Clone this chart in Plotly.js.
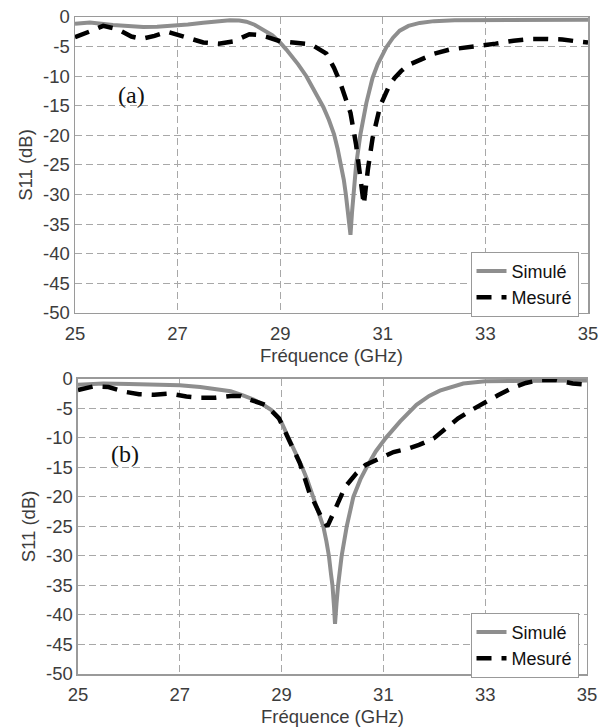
<!DOCTYPE html>
<html>
<head>
<meta charset="utf-8">
<script src="https://cdn.plot.ly/plotly-3.0.1.min.js"></script>
<style>html,body{margin:0;padding:0;background:#fff;}#chart{width:606px;height:727px;}</style>
</head>
<body>
<div id="chart"></div>
<script>
// ---- Data: panel (a) ----
const freqSimA = [25.0,25.29,25.74,26.05,26.33,26.6,26.85,27.2,27.5,27.8,28.02,28.2,28.34,28.5,28.67,28.85,29.0,29.12,29.35,29.51,29.7,29.84,29.95,30.05,30.12,30.19,30.24,30.28,30.32,30.37,30.4,30.43,30.48,30.56,30.68,30.8,30.9,31.07,31.2,31.33,31.5,31.72,32.0,32.4,33.0,34.0,35.0];
const s11SimA  = [-1.13,-0.95,-1.36,-1.6,-1.7,-1.65,-1.53,-1.25,-0.97,-0.7,-0.57,-0.6,-0.8,-1.3,-2.1,-3.1,-4.35,-5.5,-8,-10,-13,-15.2,-17.4,-19.8,-22.3,-25,-27.5,-30,-33,-36.8,-33,-30,-25,-20,-14.5,-10.3,-8,-5.1,-3.5,-2.3,-1.5,-1.0,-0.7,-0.55,-0.5,-0.45,-0.45];
const freqMesA = [25.0,25.15,25.3,25.55,25.75,25.9,26.1,26.3,26.55,26.8,27.05,27.3,27.5,27.8,28.1,28.4,28.55,28.75,29.0,29.3,29.6,29.9,30.05,30.17,30.3,30.37,30.48,30.56,30.63,30.71,30.8,30.95,31.13,31.23,31.36,31.5,31.73,32.0,32.3,32.6,32.9,33.2,33.55,33.9,34.2,34.5,34.77,35.0];
const s11MesA  = [-3.4,-3.0,-2.4,-1.5,-1.9,-2.4,-3.3,-3.7,-3.2,-2.5,-3.2,-3.9,-4.3,-4.5,-4.1,-2.9,-3.0,-3.4,-4.1,-4.35,-4.6,-6.2,-8.6,-11.1,-14.5,-16.2,-21.6,-26.8,-31.7,-25.7,-20.5,-15,-11.5,-10.3,-9.1,-8.1,-7.2,-6.2,-5.5,-5.2,-4.9,-4.5,-4.0,-3.7,-3.7,-3.8,-4.1,-4.3];

// ---- Data: panel (b) ----
const freqSimB = [25.0,25.5,26.0,26.5,27.0,27.4,27.72,28.0,28.24,28.45,28.64,28.8,28.9,29.0,29.1,29.25,29.39,29.5,29.62,29.72,29.82,29.88,29.93,29.97,30.0,30.03,30.05,30.08,30.11,30.18,30.28,30.41,30.55,30.67,30.85,31.05,31.33,31.65,31.9,32.11,32.35,32.57,33.0,34.0,35.0];
const s11SimB  = [-1.0,-0.8,-0.9,-1.0,-1.1,-1.4,-1.7,-2.1,-2.8,-3.5,-4.4,-5.3,-6.2,-7.4,-9.3,-12,-14.7,-17,-20,-22.5,-25,-27.5,-30,-33,-35,-38.5,-41.5,-38,-35,-30,-25,-20,-17,-15,-12.3,-10,-7.2,-4.4,-2.9,-2.0,-1.3,-0.8,-0.4,-0.3,-0.3];
const freqMesB = [25.0,25.15,25.3,25.6,25.92,26.2,26.5,26.8,27.13,27.4,27.7,28.0,28.2,28.34,28.5,28.67,28.8,28.95,29.11,29.36,29.54,29.7,29.79,29.9,30.0,30.25,30.47,30.65,30.85,31.0,31.2,31.45,31.7,31.99,32.2,32.47,32.75,33.0,33.25,33.52,33.8,34.08,34.4,34.72,35.0];
const s11MesB  = [-1.9,-1.5,-1.3,-1.4,-2.2,-2.6,-2.7,-2.5,-3.0,-3.2,-3.2,-2.9,-2.9,-3.4,-3.8,-4.4,-5.4,-6.7,-9.7,-14.3,-19.1,-22,-23.6,-25,-23.2,-18.3,-16.0,-14.6,-13.8,-13.2,-12.4,-11.9,-11.2,-10.1,-8.7,-6.7,-5.2,-4.1,-2.8,-1.6,-0.7,-0.2,-0.2,-0.8,-1.0];

const seriesNames = ['Simulé', 'Mesuré'];
const xTicks = [25, 27, 29, 31, 33, 35];
const yTicks = [0, -5, -10, -15, -20, -25, -30, -35, -40, -45, -50];
const panelLabels = ['(a)', '(b)'];
const xTitle = 'Fréquence (GHz)';
const yTitle = 'S11 (dB)';

const simColor = '#8e8e8e';
const mesColor = '#000000';
const txtFont = {family: 'Arial, "Liberation Sans", sans-serif', size: 18.5, color: '#3c3c3c'};

const simLine = {color: simColor, width: 4};
const mesLine = {color: mesColor, width: 4.5, dash: '15px,10px'};

const traces = [
  {x: freqSimA, y: s11SimA, name: seriesNames[0], mode: 'lines', line: simLine, xaxis: 'x', yaxis: 'y', legend: 'legend'},
  {x: freqMesA, y: s11MesA, name: seriesNames[1], mode: 'lines', line: mesLine, xaxis: 'x', yaxis: 'y', legend: 'legend'},
  {x: freqSimB, y: s11SimB, name: seriesNames[0], mode: 'lines', line: simLine, xaxis: 'x2', yaxis: 'y2', legend: 'legend2'},
  {x: freqMesB, y: s11MesB, name: seriesNames[1], mode: 'lines', line: mesLine, xaxis: 'x2', yaxis: 'y2', legend: 'legend2'}
];

function xAxis(domain, anchor) {
  return {
    domain: domain, anchor: anchor, range: [25, 35], tickvals: xTicks, ticktext: xTicks.map(String),
    showline: true, mirror: true, linecolor: '#9a9a9a', linewidth: 1.5,
    showgrid: true, gridcolor: '#a8a8a8', gridwidth: 1, griddash: '7px,4px',
    zeroline: false, ticks: '', tickfont: txtFont, ticklabelstandoff: 3,
    title: {text: xTitle, font: txtFont, standoff: 6}, automargin: false
  };
}
function yAxis(domain, anchor) {
  return {
    domain: domain, anchor: anchor, range: [-50, 0], tickvals: yTicks, ticktext: yTicks.map(String),
    showline: true, mirror: true, linecolor: '#9a9a9a', linewidth: 1.5,
    showgrid: true, gridcolor: '#a8a8a8', gridwidth: 1, griddash: '7px,4px',
    zeroline: false, ticks: '', tickfont: txtFont, ticklabelstandoff: 0,
    title: {text: yTitle, font: txtFont, standoff: 5}, automargin: false
  };
}

const legendStyle = (y) => ({
  x: 0.9815, xanchor: 'right', y: y, yanchor: 'top',
  bgcolor: '#ffffff', bordercolor: '#999999', borderwidth: 1,
  font: {family: 'Arial, "Liberation Sans", sans-serif', size: 18, color: '#111111'},
  itemwidth: 30, tracegroupgap: 0
});

const layout = {
  width: 606, height: 727,
  margin: {l: 75, r: 18, t: 17, b: 53},
  paper_bgcolor: '#ffffff', plot_bgcolor: '#ffffff',
  showlegend: true,
  xaxis: xAxis([0, 1], 'y'),
  yaxis: yAxis([0.5495, 1], 'x'),
  xaxis2: xAxis([0.0058, 0.998], 'y2'),
  yaxis2: yAxis([0, 0.4493], 'x2'),
  legend: legendStyle(0.6428),
  legend2: legendStyle(0.0933),
  annotations: [
    {text: panelLabels[0], x: 26.11, y: -13.26, xref: 'x', yref: 'y', showarrow: false,
     font: {family: '"Times New Roman", "Liberation Serif", serif', size: 24, color: '#111111'}},
    {text: panelLabels[1], x: 25.92, y: -12.8, xref: 'x2', yref: 'y2', showarrow: false,
     font: {family: '"Times New Roman", "Liberation Serif", serif', size: 24, color: '#111111'}}
  ]
};

Plotly.newPlot('chart', traces, layout, {staticPlot: true, displayModeBar: false});
</script>
</body>
</html>
